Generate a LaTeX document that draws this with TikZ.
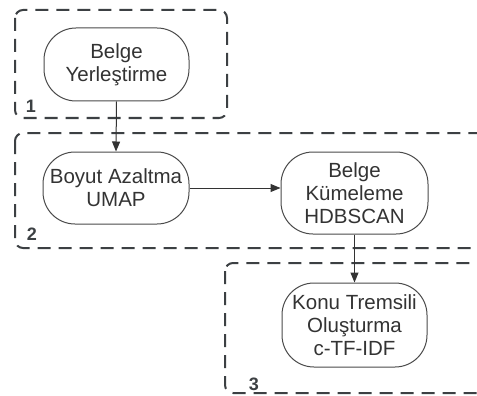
\documentclass[tikz,border=0pt]{standalone}
\usepackage{fontspec}
\setmainfont{Liberation Sans}
\usetikzlibrary{arrows.meta}
\definecolor{txt}{HTML}{333333}
\definecolor{edge}{HTML}{4A4A4A}
\definecolor{grp}{HTML}{3C4043}
\tikzset{
  stepbox/.style={draw=edge, line width=1pt, rounded corners=32pt, inner sep=0pt,
    align=center, text=txt, font=\fontsize{20.5}{23}\selectfont},
  groupbox/.style={draw=grp, line width=2pt, dash pattern=on 13pt off 8pt, rounded corners=8pt},
  grouplabel/.style={text=grp, font=\fontsize{18}{18}\selectfont\bfseries, inner sep=0pt},
  flow/.style={draw=txt, line width=1pt, -{Triangle[length=10pt,width=8pt]}}
}
\begin{document}
\begin{tikzpicture}[x=1pt,y=-1pt]
\clip (0,0) rectangle (477,396);
\fill[white] (0,0) rectangle (477,396);
% groups
\draw[groupbox] (15,10) rectangle (227,118);
\draw[groupbox] (15,133) rectangle (510,248);
\draw[groupbox] (225,263) rectangle (510,393);
\node[grouplabel] (l1) at (31,106) {1};
\node[grouplabel] (l2) at (32,234) {2};
\node[grouplabel] (l3) at (254,384) {3};
% steps
\node[stepbox, minimum width=145pt, minimum height=73pt] (A) at (116.5,64.5) {Belge\\Yerleştirme};
\node[stepbox, minimum width=146pt, minimum height=72pt] (B) at (116,188) {Boyut Azaltma\\UMAP};
\node[stepbox, minimum width=147pt, minimum height=82pt] (C) at (354.5,193) {Belge\\Kümeleme\\HDBSCAN};
\node[stepbox, minimum width=145pt, minimum height=84pt] (D) at (354.5,325) {Konu Tremsili\\Oluşturma\\c-TF-IDF};
% flows
\draw[flow] (A.south) -- (B.north);
\draw[flow] (B.east) -- (B.east -| C.west);
\draw[flow] (C.south) -- (D.north);
\end{tikzpicture}
\end{document}
